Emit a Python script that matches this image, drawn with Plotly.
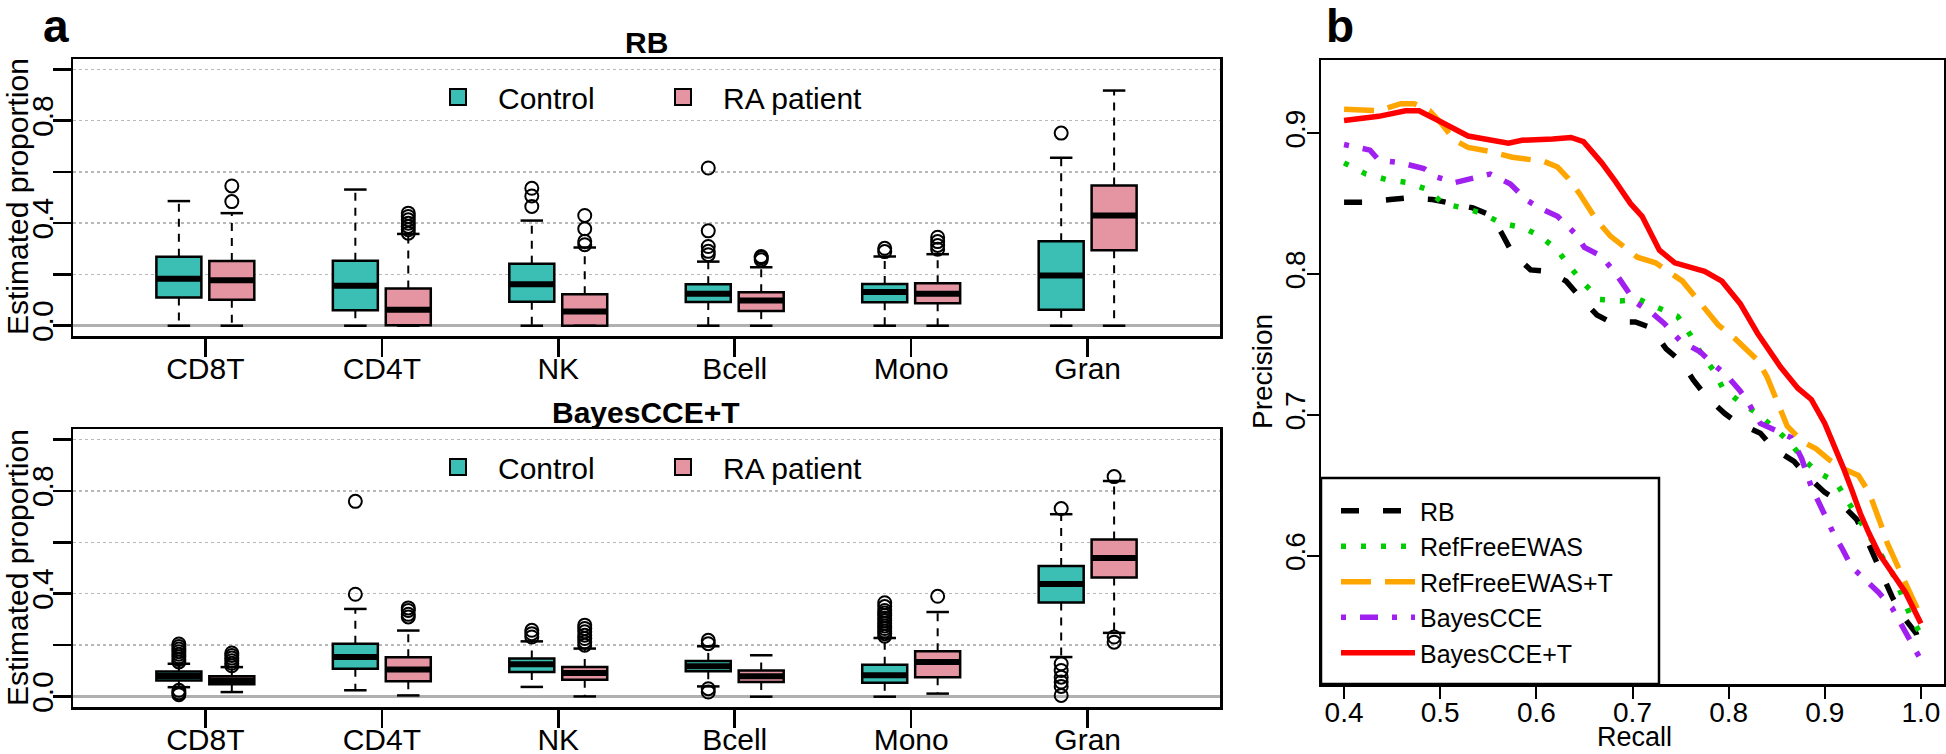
import plotly.graph_objects as go

W, H = 1946, 754

# ---------------- data ----------------
CATEGORIES = ["CD8T", "CD4T", "NK", "Bcell", "Mono", "Gran"]
GROUP_NAMES = ["Control", "RA patient"]
GROUP_COLORS = ["#3BBEB3", "#E595A2"]

# Panel a (top): RB  -- box statistics per cell type
RB_CTRL_LO = [0.0, 0.0, 0.0, 0.0, 0.0, 0.0]
RB_CTRL_Q1 = [0.110, 0.060, 0.094, 0.093, 0.092, 0.062]
RB_CTRL_MED = [0.183, 0.156, 0.162, 0.125, 0.132, 0.196]
RB_CTRL_Q3 = [0.269, 0.253, 0.242, 0.162, 0.163, 0.329]
RB_CTRL_HI = [0.486, 0.531, 0.410, 0.250, 0.270, 0.655]
RB_CTRL_OUT = [[], [], [0.465, 0.506, 0.536], [0.277, 0.290, 0.309, 0.370, 0.615],
               [0.289, 0.302], [0.751]]

RB_RA_LO = [0.0, 0.0, 0.0, 0.0, 0.0, 0.0]
RB_RA_Q1 = [0.101, 0.002, 0.0, 0.057, 0.088, 0.294]
RB_RA_MED = [0.177, 0.062, 0.056, 0.098, 0.125, 0.430]
RB_RA_Q3 = [0.252, 0.145, 0.123, 0.131, 0.166, 0.547]
RB_RA_HI = [0.439, 0.358, 0.305, 0.228, 0.279, 0.917]
RB_RA_OUT = [[0.484, 0.545], [0.361, 0.374, 0.387, 0.400, 0.413, 0.426, 0.439],
             [0.316, 0.329, 0.378, 0.430], [0.257, 0.265, 0.270],
             [0.298, 0.313, 0.328, 0.345], []]

# Panel a (bottom): BayesCCE+T
BC_CTRL_LO = [0.037, 0.025, 0.038, 0.040, 0.0, 0.154]
BC_CTRL_Q1 = [0.063, 0.109, 0.096, 0.099, 0.054, 0.366]
BC_CTRL_MED = [0.080, 0.154, 0.126, 0.118, 0.083, 0.438]
BC_CTRL_Q3 = [0.098, 0.206, 0.148, 0.139, 0.124, 0.508]
BC_CTRL_HI = [0.128, 0.341, 0.215, 0.196, 0.228, 0.709]
BC_CTRL_OUT = [[0.008, 0.015, 0.025, 0.135, 0.145, 0.155, 0.165, 0.175, 0.185, 0.195, 0.205],
               [0.398, 0.759], [0.232, 0.245, 0.258], [0.018, 0.031, 0.206, 0.219],
               [0.235, 0.245, 0.255, 0.265, 0.275, 0.285, 0.295, 0.305, 0.315, 0.325,
                0.335, 0.350, 0.365],
               [0.005, 0.040, 0.057, 0.076, 0.102, 0.128, 0.731]]

BC_RA_LO = [0.018, 0.005, 0.001, 0.0, 0.012, 0.248]
BC_RA_Q1 = [0.048, 0.060, 0.066, 0.057, 0.076, 0.463]
BC_RA_MED = [0.063, 0.106, 0.092, 0.079, 0.135, 0.539]
BC_RA_Q3 = [0.079, 0.153, 0.115, 0.102, 0.177, 0.611]
BC_RA_HI = [0.115, 0.257, 0.187, 0.161, 0.329, 0.838]
BC_RA_OUT = [[0.12, 0.13, 0.14, 0.15, 0.16, 0.17], [0.310, 0.320, 0.335, 0.345],
             [0.200, 0.213, 0.226, 0.239, 0.252, 0.265, 0.278], [], [0.390],
             [0.212, 0.232, 0.855]]

PROP_TICKS = [0.0, 0.2, 0.4, 0.6, 0.8, 1.0]
PROP_TICKTEXT = ["0.0", "", "0.4", "", "0.8", ""]

# Panel b: precision-recall curves
METHODS = ["RB", "RefFreeEWAS", "RefFreeEWAS+T", "BayesCCE", "BayesCCE+T"]

RB_RECALL = [0.400, 0.420, 0.448, 0.464, 0.492, 0.508, 0.534, 0.552, 0.564, 0.575, 0.594,
             0.612, 0.631, 0.645, 0.663, 0.677, 0.703, 0.719, 0.735, 0.752, 0.763, 0.777,
             0.796, 0.810, 0.833, 0.847, 0.868, 0.881, 0.900, 0.914, 0.933, 0.942, 0.951,
             0.960, 0.970, 0.979, 0.995, 1.000]
RB_PREC = [0.851, 0.851, 0.853, 0.854, 0.853, 0.851, 0.847, 0.842, 0.829, 0.815, 0.803,
           0.802, 0.795, 0.784, 0.771, 0.766, 0.766, 0.762, 0.747, 0.737, 0.725, 0.713,
           0.701, 0.694, 0.687, 0.676, 0.667, 0.657, 0.645, 0.639, 0.626, 0.614, 0.600,
           0.588, 0.571, 0.559, 0.545, 0.533]

RFE_RECALL = [0.400, 0.423, 0.445, 0.466, 0.487, 0.503, 0.524, 0.544, 0.564, 0.586, 0.604,
              0.622, 0.635, 0.650, 0.666, 0.687, 0.707, 0.727, 0.747, 0.760, 0.771, 0.784,
              0.794, 0.812, 0.830, 0.847, 0.863, 0.877, 0.893, 0.911, 0.923, 0.935, 0.946,
              0.958, 0.970, 0.979, 0.988, 1.000]
RFE_PREC = [0.879, 0.871, 0.867, 0.865, 0.860, 0.850, 0.847, 0.843, 0.836, 0.833, 0.827,
            0.817, 0.805, 0.793, 0.782, 0.781, 0.782, 0.776, 0.770, 0.757, 0.744, 0.732,
            0.719, 0.709, 0.701, 0.691, 0.681, 0.669, 0.659, 0.653, 0.640, 0.627, 0.614,
            0.601, 0.588, 0.574, 0.559, 0.544]

RFET_RECALL = [0.400, 0.436, 0.459, 0.473, 0.489, 0.501, 0.515, 0.529, 0.552, 0.575, 0.608,
               0.622, 0.633, 0.645, 0.663, 0.677, 0.705, 0.724, 0.752, 0.766, 0.789, 0.807,
               0.830, 0.840, 0.854, 0.861, 0.877, 0.891, 0.905, 0.919, 0.935, 0.946, 0.958,
               0.965, 0.979, 0.988, 1.000]
RFET_PREC = [0.917, 0.916, 0.921, 0.921, 0.916, 0.907, 0.895, 0.890, 0.887, 0.883, 0.880,
             0.876, 0.868, 0.857, 0.838, 0.827, 0.812, 0.808, 0.795, 0.783, 0.764, 0.754,
             0.739, 0.727, 0.705, 0.692, 0.681, 0.676, 0.668, 0.662, 0.657, 0.645, 0.623,
             0.609, 0.588, 0.574, 0.557]

BCCE_RECALL = [0.400, 0.427, 0.436, 0.459, 0.483, 0.496, 0.515, 0.538, 0.552, 0.573, 0.589,
               0.603, 0.622, 0.640, 0.650, 0.667, 0.682, 0.691, 0.703, 0.721, 0.733, 0.749,
               0.770, 0.781, 0.798, 0.812, 0.821, 0.833, 0.854, 0.865, 0.876, 0.886, 0.900,
               0.909, 0.919, 0.928, 0.942, 0.956, 0.970, 0.981, 0.988, 1.000]
BCCE_PREC = [0.892, 0.888, 0.881, 0.879, 0.875, 0.869, 0.865, 0.869, 0.871, 0.864, 0.853,
             0.847, 0.841, 0.829, 0.819, 0.813, 0.801, 0.792, 0.780, 0.772, 0.765, 0.753,
             0.745, 0.738, 0.728, 0.717, 0.708, 0.694, 0.688, 0.684, 0.669, 0.649, 0.629,
             0.616, 0.604, 0.592, 0.583, 0.574, 0.563, 0.550, 0.540, 0.526]

BCCET_RECALL = [0.400, 0.436, 0.464, 0.478, 0.501, 0.529, 0.571, 0.585, 0.617, 0.636, 0.649,
                0.668, 0.682, 0.698, 0.710, 0.728, 0.744, 0.775, 0.793, 0.812, 0.830, 0.854,
                0.872, 0.886, 0.900, 0.909, 0.919, 0.928, 0.937, 0.946, 0.956, 0.970, 0.984,
                1.000]
BCCET_PREC = [0.909, 0.912, 0.916, 0.916, 0.908, 0.898, 0.893, 0.895, 0.896, 0.897, 0.894,
              0.879, 0.866, 0.850, 0.841, 0.817, 0.808, 0.802, 0.795, 0.779, 0.758, 0.734,
              0.719, 0.711, 0.694, 0.680, 0.663, 0.647, 0.630, 0.616, 0.602, 0.588, 0.574,
              0.552]

CURVE_COLORS = ["black", "#00CD00", "#FFA500", "#A020F0", "#FF0000"]
CURVE_DASHES = ["18px,24px", "5px,15px", "30px,14px", "5px,14px,18px,14px", "solid"]

# ---------------- helpers ----------------
FONT = "Liberation Sans, Arial, Helvetica, sans-serif"


def px(x):
    return min(1.0, max(0.0, x / W))


def py(y):
    return min(1.0, max(0.0, 1 - y / H))


OFFSETS = [-0.15, 0.15]
BOX_W = 0.255
CAP_W = BOX_W / 2

fig = go.Figure()


def add_boxes(xa, ya, pos_off, color, lo, q1, med, q3, hi, outs):
    pos = [i + pos_off for i in range(len(CATEGORIES))]
    # whiskers (dashed)
    wx, wy = [], []
    for p, a, b, c, d in zip(pos, lo, q1, q3, hi):
        wx += [p, p, None, p, p, None]
        wy += [c, d, None, b, a, None]
    fig.add_trace(go.Scatter(x=wx, y=wy, mode="lines", xaxis=xa, yaxis=ya,
                             line=dict(color="black", width=2, dash="8px,7px"),
                             showlegend=False, hoverinfo="skip"))
    # caps
    cx, cy = [], []
    for p, a, d in zip(pos, lo, hi):
        cx += [p - CAP_W / 2, p + CAP_W / 2, None, p - CAP_W / 2, p + CAP_W / 2, None]
        cy += [d, d, None, a, a, None]
    fig.add_trace(go.Scatter(x=cx, y=cy, mode="lines", xaxis=xa, yaxis=ya,
                             line=dict(color="black", width=2.5),
                             showlegend=False, hoverinfo="skip"))
    # boxes
    fig.add_trace(go.Bar(x=pos, base=q1, y=[c - b for b, c in zip(q1, q3)],
                         width=BOX_W, xaxis=xa, yaxis=ya,
                         marker=dict(color=color, line=dict(color="black", width=2.5)),
                         showlegend=False, hoverinfo="skip"))
    # medians
    mx, my = [], []
    for p, m in zip(pos, med):
        mx += [p - BOX_W / 2, p + BOX_W / 2, None]
        my += [m, m, None]
    fig.add_trace(go.Scatter(x=mx, y=my, mode="lines", xaxis=xa, yaxis=ya,
                             line=dict(color="black", width=6),
                             showlegend=False, hoverinfo="skip"))
    # outliers
    ox, oy = [], []
    for p, vals in zip(pos, outs):
        for v in vals:
            ox.append(p)
            oy.append(v)
    fig.add_trace(go.Scatter(x=ox, y=oy, mode="markers", xaxis=xa, yaxis=ya,
                             marker=dict(symbol="circle-open", size=13, color="black",
                                         line=dict(width=2, color="black")),
                             showlegend=False, hoverinfo="skip"))


add_boxes("x", "y", OFFSETS[0], GROUP_COLORS[0], RB_CTRL_LO, RB_CTRL_Q1, RB_CTRL_MED,
          RB_CTRL_Q3, RB_CTRL_HI, RB_CTRL_OUT)
add_boxes("x", "y", OFFSETS[1], GROUP_COLORS[1], RB_RA_LO, RB_RA_Q1, RB_RA_MED,
          RB_RA_Q3, RB_RA_HI, RB_RA_OUT)
add_boxes("x2", "y2", OFFSETS[0], GROUP_COLORS[0], BC_CTRL_LO, BC_CTRL_Q1, BC_CTRL_MED,
          BC_CTRL_Q3, BC_CTRL_HI, BC_CTRL_OUT)
add_boxes("x2", "y2", OFFSETS[1], GROUP_COLORS[1], BC_RA_LO, BC_RA_Q1, BC_RA_MED,
          BC_RA_Q3, BC_RA_HI, BC_RA_OUT)

# legend entries for panel a (one legend per sub-panel)
for leg, xa, ya in [("legend", "x", "y"), ("legend2", "x2", "y2")]:
    for name, col in zip(GROUP_NAMES, GROUP_COLORS):
        fig.add_trace(go.Scatter(x=[None], y=[None], mode="markers", name=name,
                                 xaxis=xa, yaxis=ya, legend=leg,
                                 marker=dict(symbol="square", size=20, color=col,
                                             line=dict(color="black", width=2))))

# panel b curves
for name, rx, pr, col, dash in zip(
        METHODS,
        [RB_RECALL, RFE_RECALL, RFET_RECALL, BCCE_RECALL, BCCET_RECALL],
        [RB_PREC, RFE_PREC, RFET_PREC, BCCE_PREC, BCCET_PREC],
        CURVE_COLORS, CURVE_DASHES):
    fig.add_trace(go.Scatter(x=rx, y=pr, mode="lines", name=name, xaxis="x3", yaxis="y3",
                             legend="legend3", line=dict(color=col, width=5.5, dash=dash),
                             hoverinfo="skip"))

# ---------------- layout ----------------
tickfont_a = dict(family=FONT, size=30, color="black")
tickfont_b = dict(family=FONT, size=28, color="black")

common_xa = dict(range=[-0.75, 5.75], tickmode="array", tickvals=list(range(len(CATEGORIES))),
                 ticktext=CATEGORIES, ticks="outside", ticklen=18, tickwidth=2.5,
                 tickcolor="black", showline=True, linewidth=2.5, linecolor="black",
                 mirror=True, showgrid=False, zeroline=False, tickfont=tickfont_a,
                 ticklabelstandoff=-14, fixedrange=True)
common_ya = dict(range=[-0.04, 1.04], tickmode="array", tickvals=PROP_TICKS,
                 ticktext=PROP_TICKTEXT, tickangle=-90, ticks="outside", ticklen=18,
                 tickwidth=2.5, tickcolor="black", showline=True, linewidth=2.5,
                 linecolor="black", mirror=True, showgrid=True, gridcolor="#B8B8B8",
                 griddash="dot", gridwidth=1.5, zeroline=True, zerolinecolor="#B0B0B0",
                 zerolinewidth=2.5, tickfont=tickfont_a, ticklabelstandoff=-12,
                 fixedrange=True)


def ann(text, x, y, size, angle=0, yanchor="middle"):
    return dict(text=text, x=px(x), y=py(y), xref="paper", yref="paper",
                xanchor="center", yanchor=yanchor, showarrow=False, textangle=angle,
                font=dict(family=FONT, size=size, color="black"))


fig.update_layout(
    width=W, height=H, autosize=False,
    margin=dict(l=0, r=0, t=0, b=0, autoexpand=False),
    paper_bgcolor="white", plot_bgcolor="white",
    font=dict(family=FONT, color="black"),
    barmode="overlay",
    xaxis=dict(common_xa, domain=[px(73), px(1220)], anchor="y"),
    yaxis=dict(common_ya, domain=[py(336), py(59)], anchor="x"),
    xaxis2=dict(common_xa, domain=[px(73), px(1220)], anchor="y2"),
    yaxis2=dict(common_ya, domain=[py(707), py(429)], anchor="x2"),
    xaxis3=dict(range=[0.376, 1.024], domain=[px(1321), px(1944)], anchor="y3",
                tickmode="array", tickvals=[0.4, 0.5, 0.6, 0.7, 0.8, 0.9, 1.0],
                ticktext=["0.4", "0.5", "0.6", "0.7", "0.8", "0.9", "1.0"],
                ticks="outside", ticklen=12, tickwidth=2, tickcolor="black",
                showline=True, linewidth=2.5, linecolor="black", mirror=True,
                showgrid=False, zeroline=False, tickfont=tickfont_b,
                ticklabelstandoff=-10, fixedrange=True),
    yaxis3=dict(range=[0.509, 0.952], domain=[py(684), py(60)], anchor="x3",
                tickmode="array", tickvals=[0.6, 0.7, 0.8, 0.9],
                ticktext=["0.6", "0.7", "0.8", "0.9"], tickangle=-90,
                ticks="outside", ticklen=12, tickwidth=2, tickcolor="black",
                showline=True, linewidth=2.5, linecolor="black", mirror=True,
                showgrid=False, zeroline=False, tickfont=tickfont_b,
                ticklabelstandoff=-10, fixedrange=True),
    legend=dict(orientation="h", x=px(418), xanchor="left", y=py(97), yanchor="middle",
                font=dict(family=FONT, size=30, color="black"), itemwidth=70,
                entrywidth=140, entrywidthmode="pixels", bgcolor="rgba(0,0,0,0)",
                itemsizing="trace"),
    legend2=dict(orientation="h", x=px(418), xanchor="left", y=py(467), yanchor="middle",
                 font=dict(family=FONT, size=30, color="black"), itemwidth=70,
                 entrywidth=140, entrywidthmode="pixels", bgcolor="rgba(0,0,0,0)",
                 itemsizing="trace"),
    legend3=dict(orientation="v", x=px(1336), xanchor="left", y=py(488), yanchor="top",
                 font=dict(family=FONT, size=25, color="black"), itemwidth=74,
                 bgcolor="rgba(0,0,0,0)", tracegroupgap=0, itemsizing="trace"),
    shapes=[dict(type="rect", xref="paper", yref="paper", x0=px(1321), x1=px(1659),
                 y0=py(684), y1=py(478), line=dict(color="black", width=2.5),
                 fillcolor="white", layer="below")],
    annotations=[
        ann("<b>a</b>", 56, 26, 46),
        ann("<b>b</b>", 1340, 26, 46),
        ann("<b>RB</b>", 646, 42, 30),
        ann("<b>BayesCCE+T</b>", 646, 412, 30),
        ann("Estimated proportion", 17, 197, 30, -90),
        ann("Estimated proportion", 17, 568, 30, -90),
        ann("Precision", 1262, 372, 28, -90),
        ann("Recall", 1634, 754, 27, 0, "bottom"),
    ],
)

# remove the browser's default 8px page margin so the figure fills the window exactly
fig.write_html("out.html",
               config={"displayModeBar": False, "staticPlot": True},
               post_script="document.body.style.margin='0';document.body.style.overflow='hidden';")
